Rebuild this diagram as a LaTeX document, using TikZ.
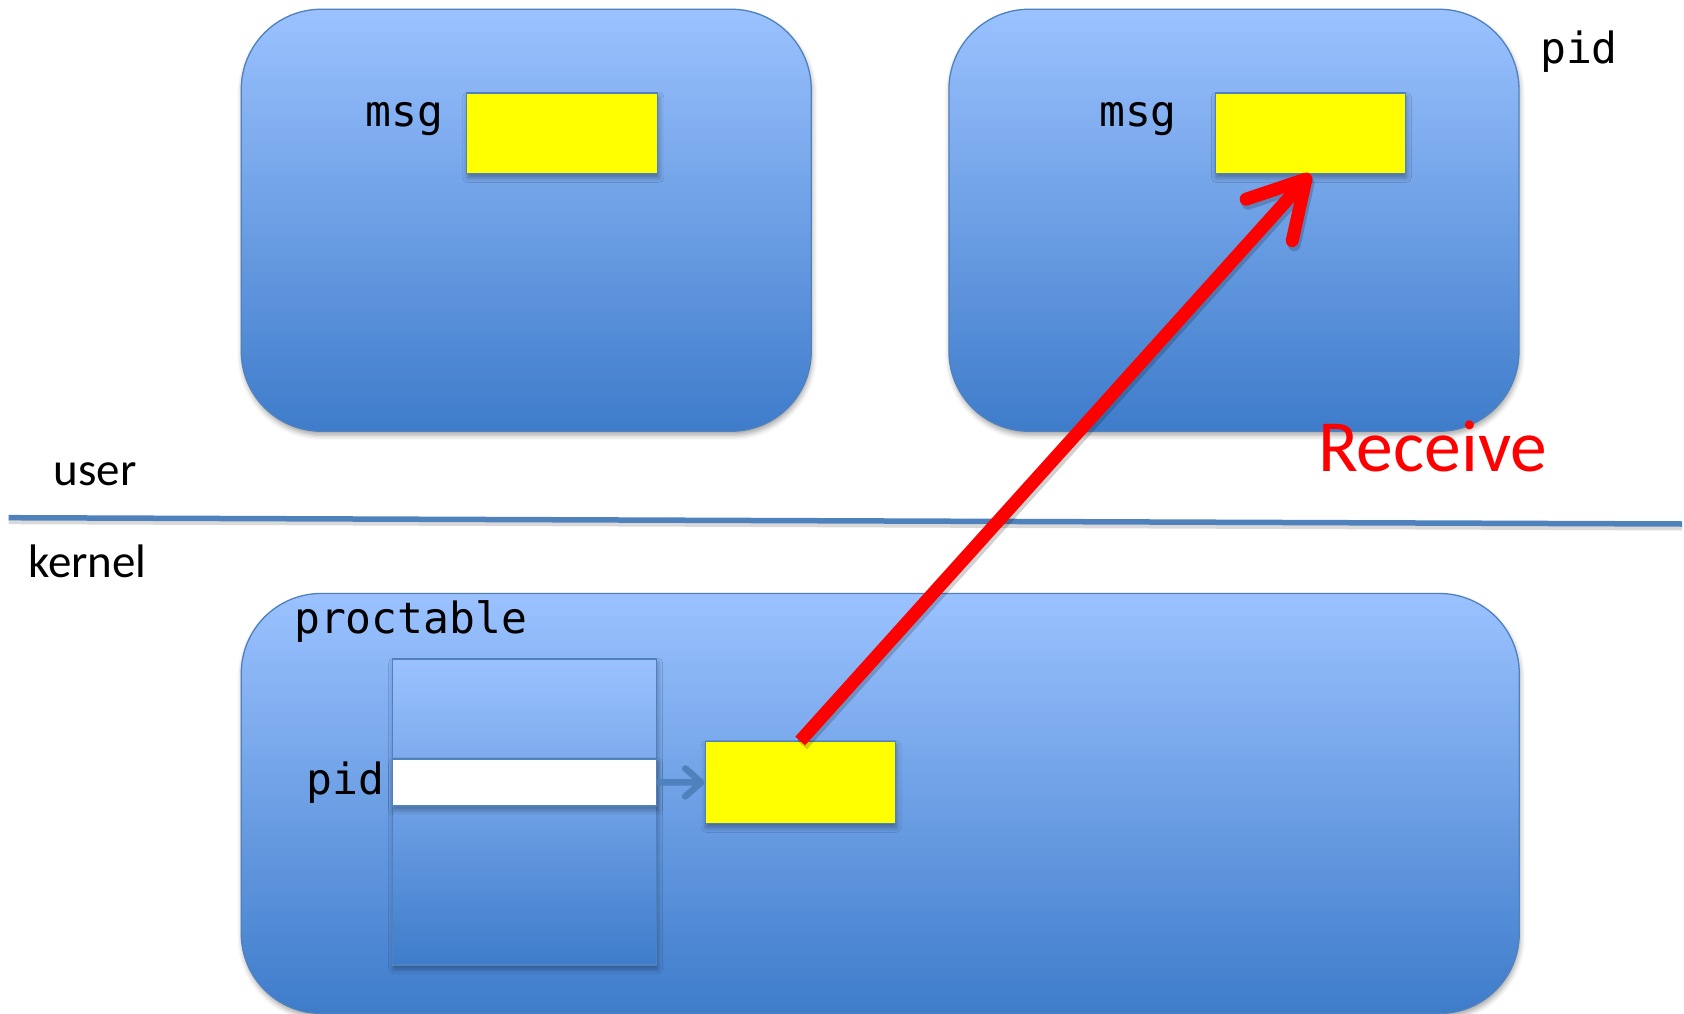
\documentclass[tikz,border=0pt]{standalone}
\usepackage{fontspec}
\setmainfont{Carlito}
\newfontfamily\codefont{DejaVu Sans Mono}
\usetikzlibrary{arrows.meta,shadows.blur}

\definecolor{boxtop}{RGB}{155,194,255}
\definecolor{boxbot}{RGB}{62,124,202}
\definecolor{edge}{RGB}{79,129,189}
\definecolor{memyellow}{RGB}{255,255,0}
\definecolor{recvred}{RGB}{255,0,0}

\tikzset{
  softshadow/.style={blur shadow={shadow xshift=1pt, shadow yshift=-4pt,
      shadow blur radius=5pt, shadow opacity=35}},
  space/.style={draw=edge, line width=1.3pt, rounded corners=80pt,
    top color=boxtop, bottom color=boxbot, anchor=north west,
    inner sep=0pt, softshadow},
  tablebox/.style={draw=edge, line width=1.3pt,
    top color=boxtop, bottom color=boxbot, anchor=north west,
    inner sep=0pt, softshadow},
  slot/.style={draw=edge, line width=1.3pt, fill=white,
    anchor=north west, inner sep=0pt, softshadow},
  buffer/.style={draw=edge, line width=1.3pt, fill=memyellow,
    anchor=north west, inner sep=0pt, softshadow},
  code/.style={font=\codefont\fontsize{43}{50}\selectfont, inner sep=0pt},
  plain/.style={font=\fontsize{47}{56}\selectfont, inner sep=0pt},
  recv/.style={font=\fontsize{73.5}{86}\selectfont, inner sep=0pt, text=recvred},
  pointer/.style={draw=edge, line width=6.5pt,
    -{Straight Barb[length=16pt,width=28pt,round]}},
  transfer/.style={draw=recvred, line width=13pt,
    -{Straight Barb[length=55pt,width=62pt,round]},
    preaction={draw=black, draw opacity=0.18, line width=13pt,
      transform canvas={xshift=2pt,yshift=-4pt}}},
  divider/.style={draw=edge, line width=5.5pt,
    preaction={draw=black, draw opacity=0.15, line width=5pt,
      transform canvas={yshift=-4pt}}}
}

\begin{document}
\begin{tikzpicture}[x=1pt,y=1pt]
  \useasboundingbox (0,0) rectangle (1684,-1014);

  % user-space processes
  \node[space, minimum width=570pt, minimum height=422pt] (procA) at (240.6,-8.6) {};
  \node[space, minimum width=570pt, minimum height=422pt] (procB) at (948.3,-8.6) {};

  % message buffers in user space
  \node[buffer, minimum width=191pt, minimum height=80.5pt] (bufA) at (466.1,-92.4) {};
  \node[buffer, minimum width=190pt, minimum height=80.5pt] (bufB) at (1214.7,-92.4) {};
  \node[code, anchor=base east] (msgA) at (443.6,-126.7) {msg};
  \node[code, anchor=base east] (msgB) at (1177,-126.7) {msg};
  \node[code, anchor=base west] (pidB) at (1540,-64) {pid};

  % user / kernel boundary
  \coordinate (divL) at (8.6,-517.7);
  \coordinate (divR) at (1682,-524);
  \draw[divider] (divL) -- (divR);
  \node[plain, anchor=base west] (userlbl) at (53.7,-485.5) {user};
  \node[plain, anchor=base west] (kernlbl) at (28,-577.8) {kernel};

  % kernel space
  \node[space, minimum width=1278pt, minimum height=420pt] (kspace) at (240.6,-592.8) {};
  \node[code, anchor=base west] (ptlbl) at (294,-633.7) {proctable};
  \node[tablebox, minimum width=264pt, minimum height=306pt] (ptable) at (392,-658.4) {};
  \node[slot, minimum width=264pt, minimum height=47pt] (row) at (392,-758.2) {};
  \node[code, anchor=base east] (pidK) at (384.5,-794.8) {pid};
  \node[buffer, minimum width=190pt, minimum height=81.7pt] (kbuf) at (704.5,-741) {};

  % pointer from the table entry to its queued message
  \draw[pointer] (row.east) -- (kbuf.west);

  % message delivered to the receiver
  \draw[transfer] (kbuf.north) -- (bufB.south);
  \node[recv, anchor=base west] (recvlbl) at (1318,-471.5) {Receive};
\end{tikzpicture}
\end{document}
